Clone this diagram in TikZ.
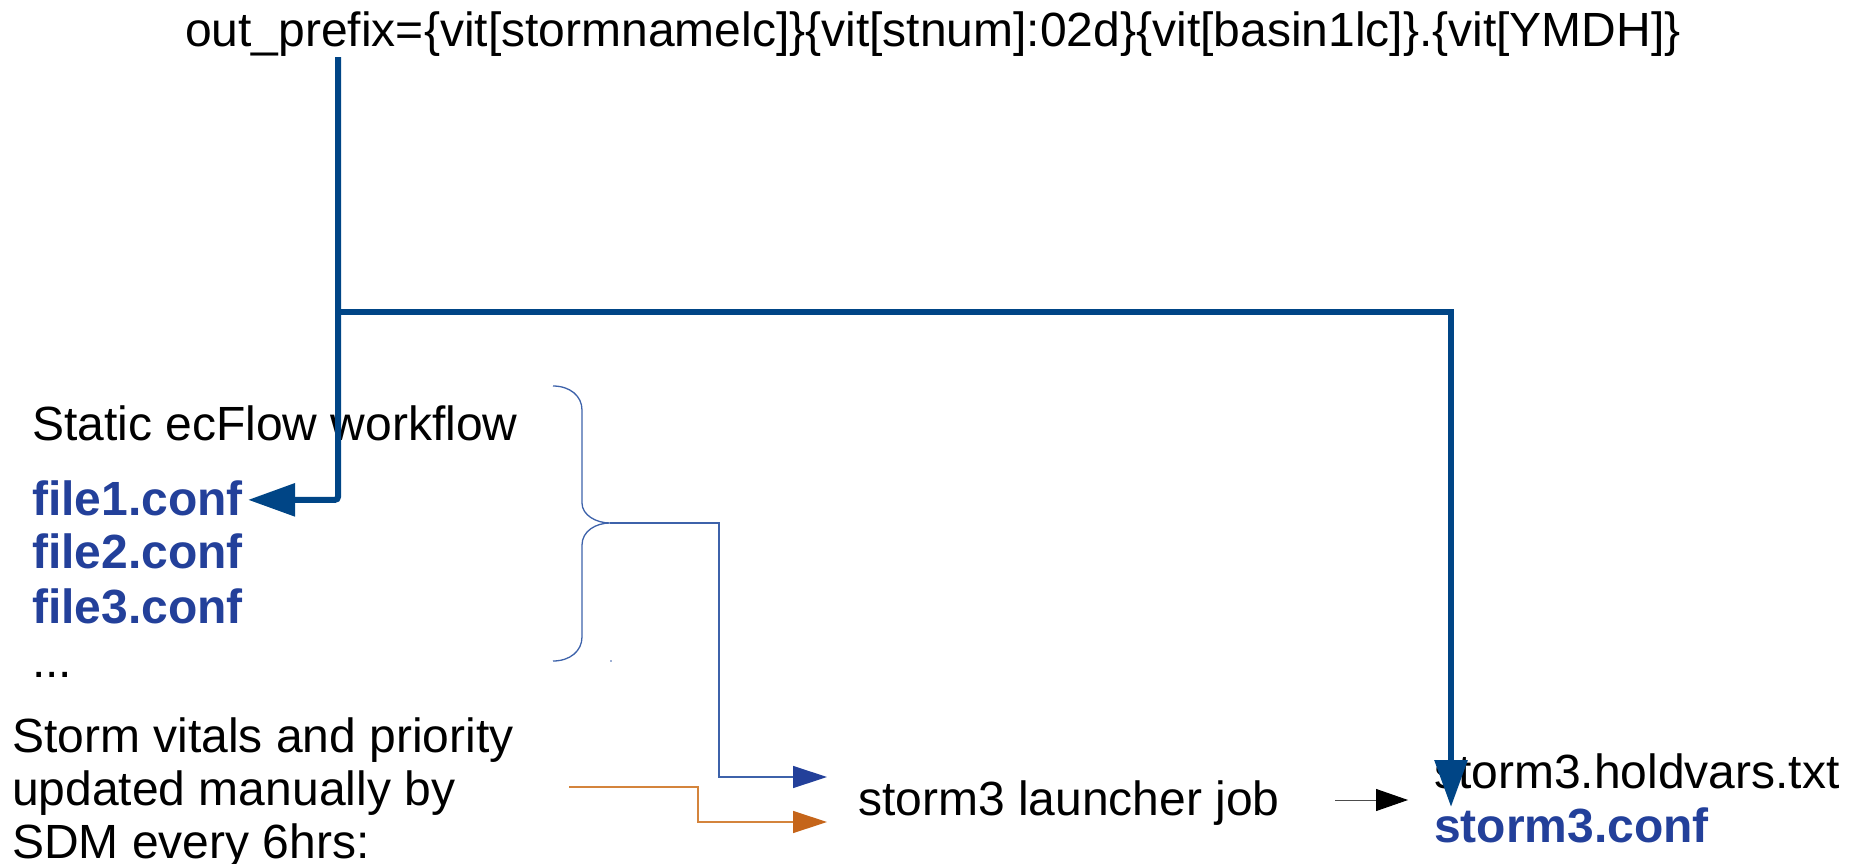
\documentclass[tikz,border=0pt]{standalone}
\usepackage{fontspec}
\setmainfont{Liberation Sans}
\usetikzlibrary{arrows.meta,calc}
\definecolor{linkblue}{HTML}{004586}
\definecolor{fileblue}{HTML}{23409A}
\definecolor{braceblue}{HTML}{3D62AA}
\definecolor{orangeline}{HTML}{D4843C}
\definecolor{orangehead}{HTML}{C5651A}

\begin{document}
\begin{tikzpicture}[x=1pt,y=-1pt,
  lbl/.style={anchor=base west, inner sep=0pt, align=left,
              font=\fontsize{48}{53}\selectfont},
  fname/.style={lbl, font=\fontsize{48}{54}\selectfont\bfseries, text=fileblue},
  mainlink/.style={draw=linkblue, line width=6pt,
                   -{Triangle[length=47pt,width=32pt]}},
  bluelink/.style={draw=braceblue, line width=1.3pt,
                   -{Triangle[length=34pt,width=22pt,color=fileblue]}},
  orangelink/.style={draw=orangeline, line width=1.3pt,
                   -{Triangle[length=34pt,width=22pt,color=orangehead]}},
  blacklink/.style={draw=black!70, line width=1pt,
                   -{Triangle[length=32pt,width=22pt,color=black]}},
  bracepath/.style={draw=braceblue, line width=1.3pt}
]
\useasboundingbox (0,0) rectangle (1849,864);

% texts
\node[lbl] (prefix) at (185,47)
  {out\_prefix=\{vit[stormnamelc]\}\{vit[stnum]:02d\}\{vit[basin1lc]\}.\{vit[YMDH]\}};
\node[lbl] (static) at (32,440) {Static ecFlow workflow};
\node[fname] (file1) at (32,515) {file1.conf};
\node[fname] (file2) at (32,568) {file2.conf};
\node[fname] (file3) at (32,623) {file3.conf};
\node[lbl] (more) at (32,677) {...};
% base of a multi-line node is the baseline of its last line
\node[lbl] (vitals) at (12,858)
  {Storm vitals and priority\\updated manually by\\SDM every 6hrs:};
\node[lbl] (job) at (858,815) {storm3 launcher job};
\node[lbl] (hold) at (1434,788) {storm3.holdvars.txt};
\node[fname] (sconf) at (1434,842) {storm3.conf};

% connector end points
\coordinate (split) at (338,312);
\coordinate (holdin) at (1451,807);
\coordinate (bracetip) at (610,523);
\coordinate (jobin1) at (827,777);
\coordinate (jobin2) at (827,822);
\coordinate (vitout) at (569,787);
\coordinate (jobout) at (1335,800);
\coordinate (holdin2) at (1408,800);

% thick prefix connectors
\draw[mainlink, rounded corners=3pt] (split |- prefix.south) -- (split)
  |- ([xshift=5pt,yshift=-2pt]file1.east);
\draw[mainlink] (split) -| (holdin);

% brace around the static files
\draw[bracepath] (553,386) .. controls (570,386) and (582,396) .. (582,410)
  -- (582,503) .. controls (582,515) and (596,523) .. (bracetip)
  .. controls (596,523) and (582,531) .. (582,545)
  -- (582,637) .. controls (582,651) and (570,661) .. (553,661);
\fill[braceblue] (611,661) circle (0.8);

% inputs of the launcher job
\draw[bluelink] (bracetip) -- ++(109,0) |- (jobin1);
\draw[orangelink] (vitout) -- ++(129,0) |- (jobin2);
\draw[blacklink] (jobout) -- (holdin2);
\end{tikzpicture}
\end{document}
